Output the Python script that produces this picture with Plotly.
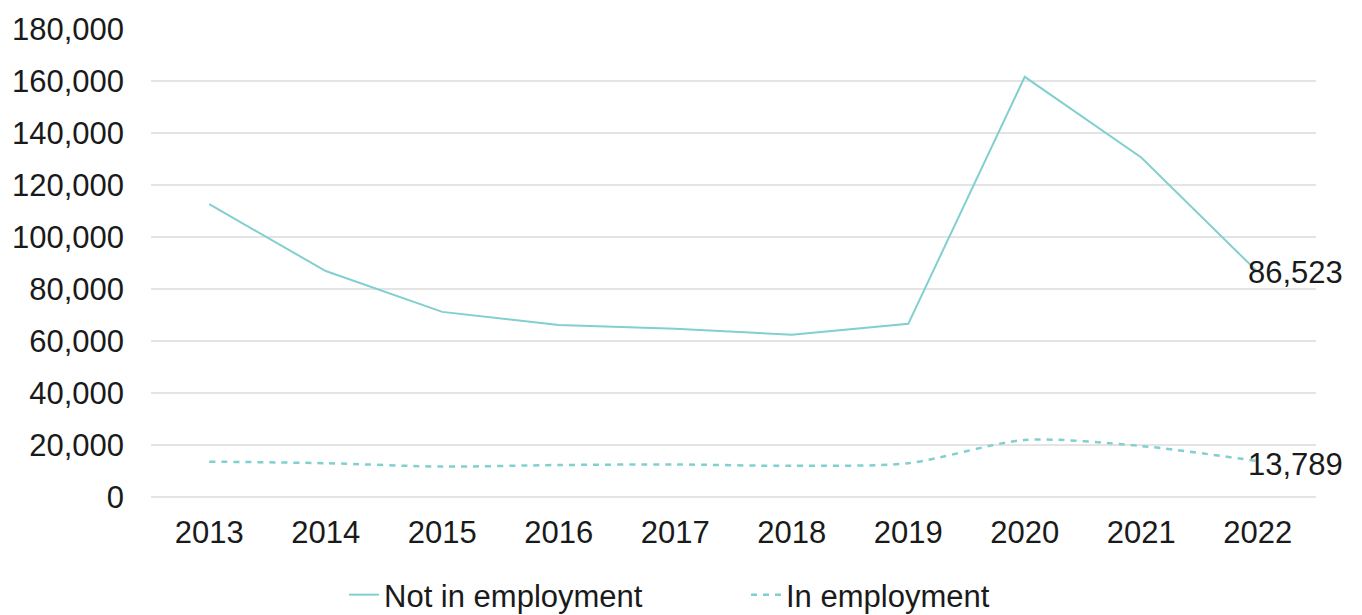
import plotly.graph_objects as go

years = ["2013", "2014", "2015", "2016", "2017", "2018", "2019", "2020", "2021", "2022"]
not_in_employment = [112600, 86900, 71200, 66200, 64700, 62400, 66600, 161600, 130600, 86523]
in_employment = [13600, 13000, 11700, 12300, 12500, 12000, 13000, 21900, 19600, 13789]
y_ticks = [0, 20000, 40000, 60000, 80000, 100000, 120000, 140000, 160000, 180000]

LINE_COLOR = "#82CFCF"
TEXT_COLOR = "#1a1a1a"
FONT = "Liberation Sans, Arial, Helvetica, sans-serif"
FS = 31

fig = go.Figure()
fig.add_trace(go.Scatter(
    x=years, y=not_in_employment, mode="lines", name="Not in employment",
    line=dict(color=LINE_COLOR, width=2),
))
fig.add_trace(go.Scatter(
    x=years, y=in_employment, mode="lines", name="In employment",
    line=dict(color=LINE_COLOR, width=2.5, dash="6px,6px", shape="spline", smoothing=0.8),
))

last_idx = len(years) - 1  # category index of the last year
fig.add_annotation(x=last_idx, y=not_in_employment[-1], text=f"{not_in_employment[-1]:,}",
                   showarrow=False, xanchor="left", yanchor="middle", xshift=-12,
                   font=dict(size=FS, color=TEXT_COLOR, family=FONT))
fig.add_annotation(x=last_idx, y=in_employment[-1], text=f"{in_employment[-1]:,}",
                   showarrow=False, xanchor="left", yanchor="middle", xshift=-12, yshift=-3,
                   font=dict(size=FS, color=TEXT_COLOR, family=FONT))

fig.update_layout(
    width=1362, height=615,
    margin=dict(l=146, r=46, t=28, b=118),
    paper_bgcolor="white", plot_bgcolor="white",
    font=dict(family=FONT, size=FS, color=TEXT_COLOR),
    showlegend=True,
    legend=dict(
        orientation="h", xref="container", yref="container",
        x=344 / 1362, y=1 - 595 / 615, xanchor="left", yanchor="middle",
        font=dict(size=FS, color=TEXT_COLOR, family=FONT),
        entrywidthmode="pixels", entrywidth=357,
        bgcolor="rgba(0,0,0,0)",
    ),
    xaxis=dict(
        type="category", range=[-0.5, len(years) - 0.5], autorange=False,
        showgrid=False, showline=False, zeroline=False,
        ticks="", ticklabelstandoff=14,
        tickfont=dict(size=FS, color=TEXT_COLOR, family=FONT),
    ),
    yaxis=dict(
        range=[0, 180000], autorange=False, tickvals=y_ticks, tickformat=",d",
        showgrid=True, gridcolor="#e4e4e4", gridwidth=1.5,
        zeroline=True, zerolinecolor="#e4e4e4", zerolinewidth=1.5,
        showline=False, ticks="", ticklabelstandoff=26,
        tickfont=dict(size=FS, color=TEXT_COLOR, family=FONT),
    ),
)

fig.write_html("out.html")
